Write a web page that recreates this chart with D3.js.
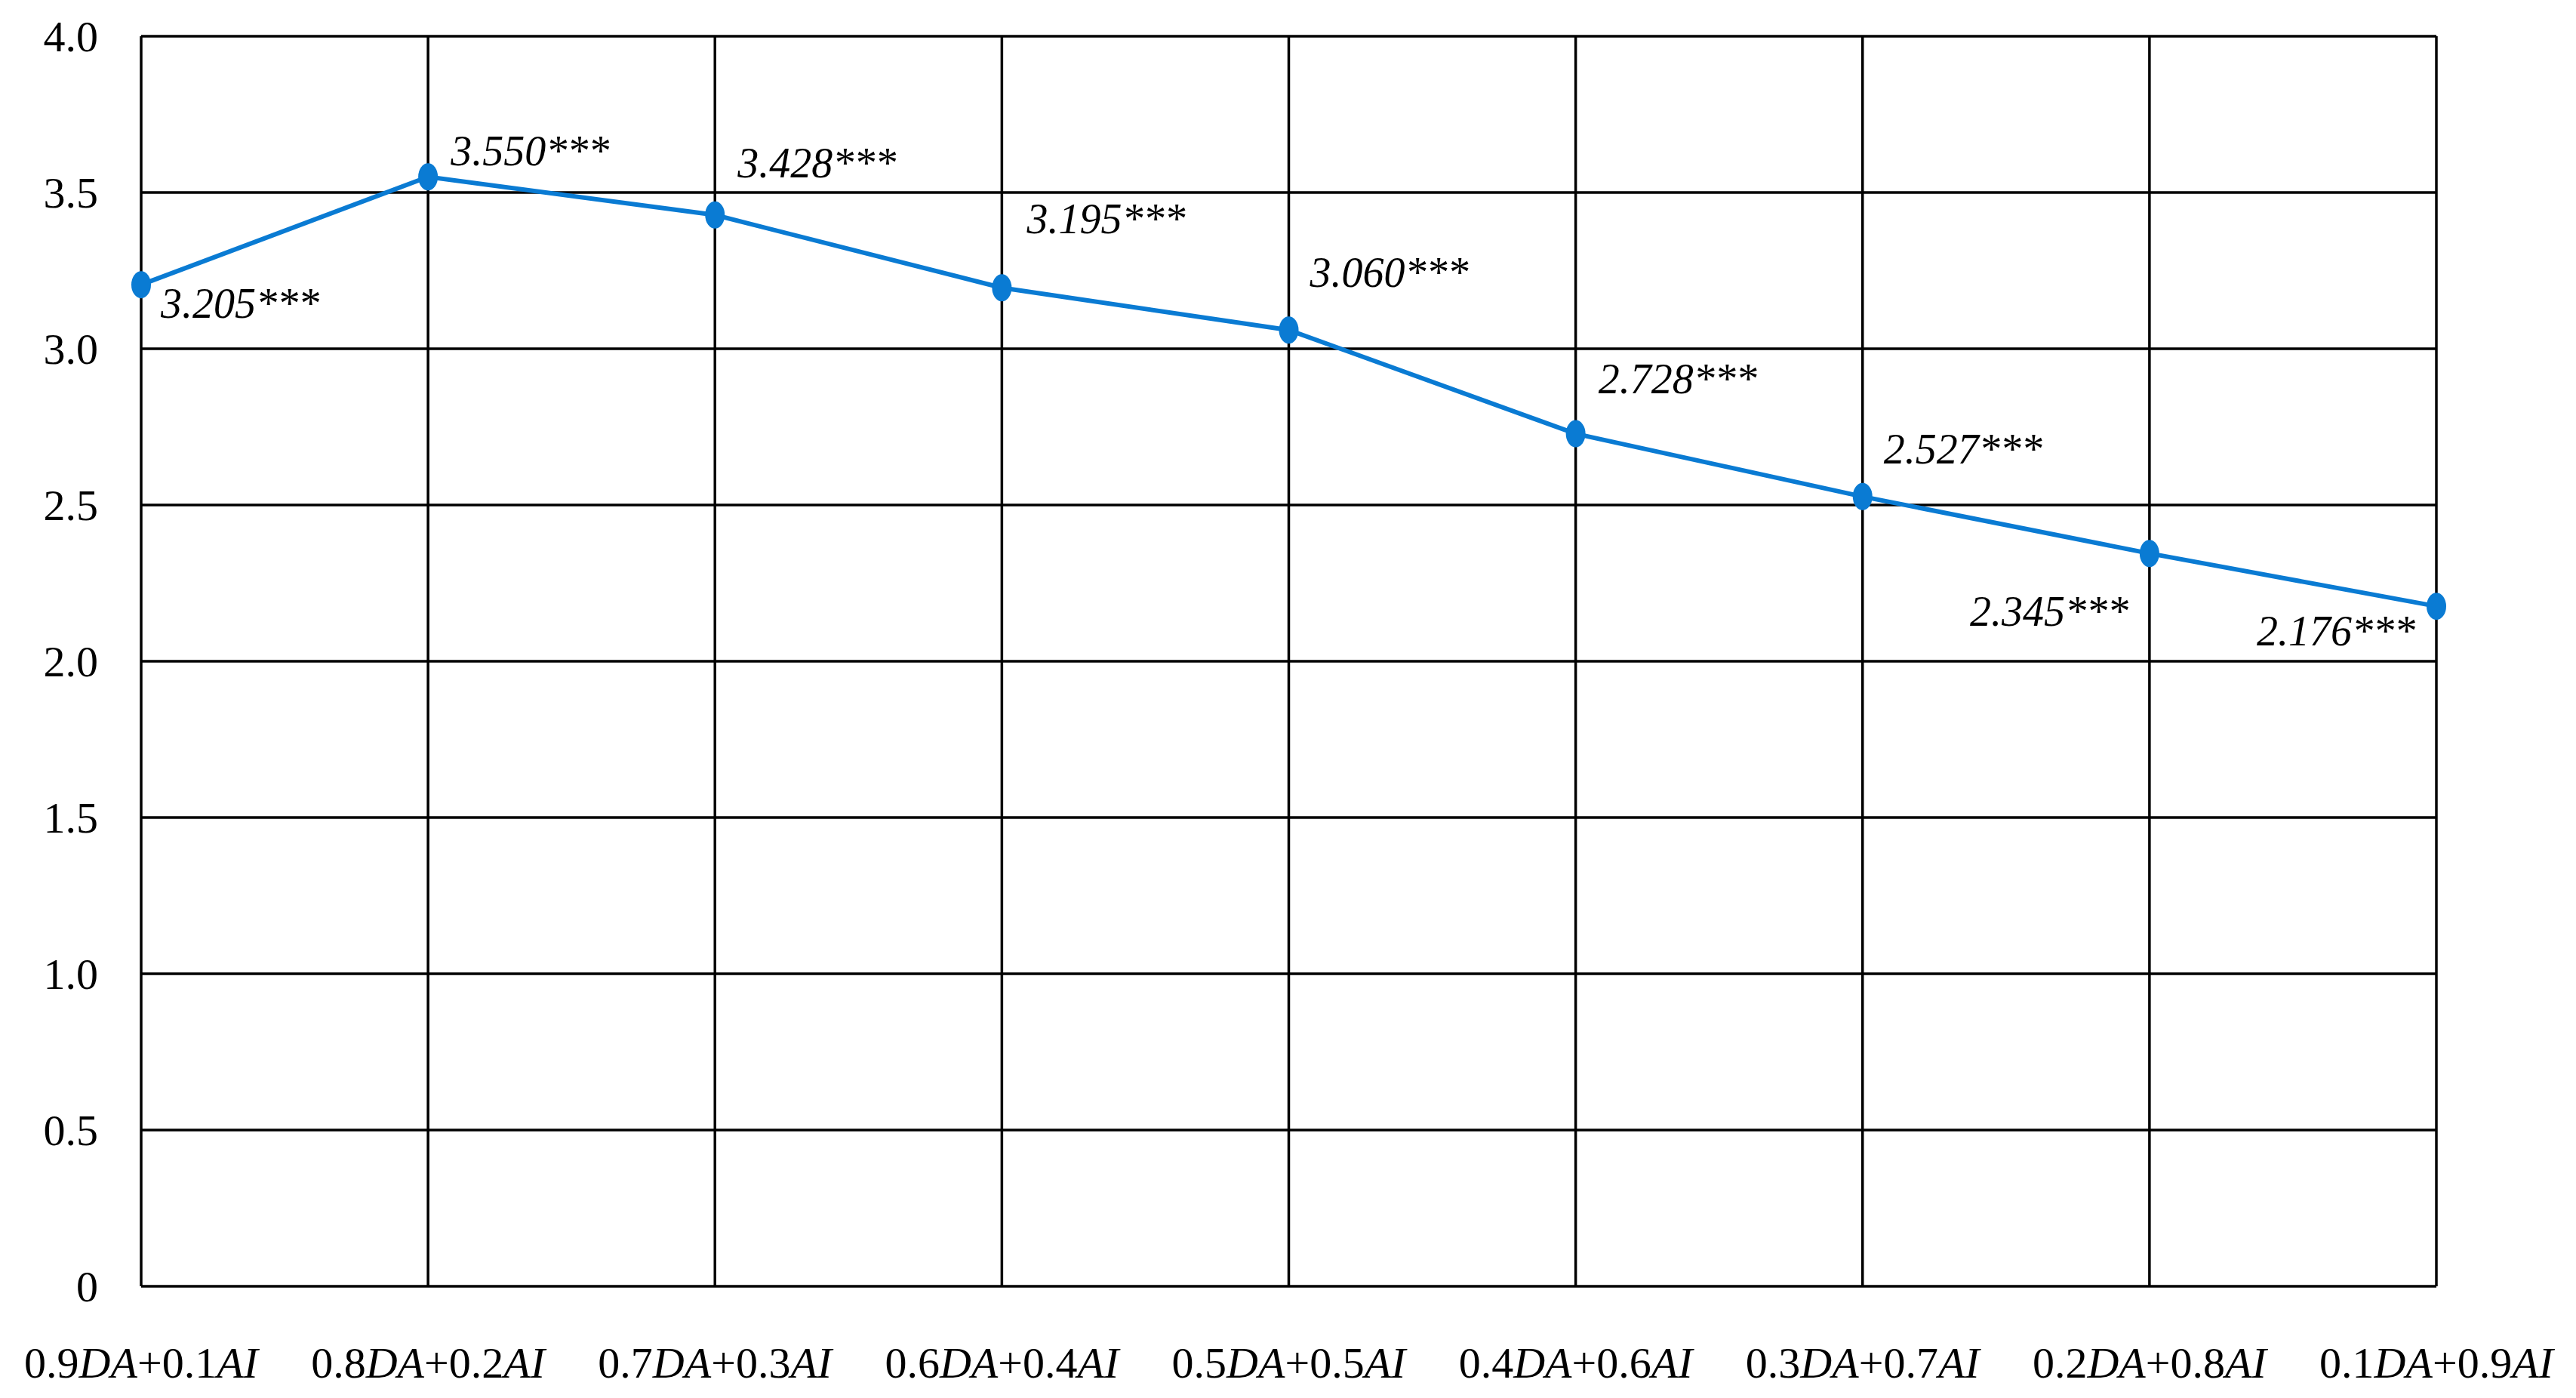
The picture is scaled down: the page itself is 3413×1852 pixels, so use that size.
<!DOCTYPE html>
<html>
<head>
<meta charset="utf-8">
<script src="https://cdn.jsdelivr.net/npm/d3@7"></script>
<style>
  body { margin: 0; background: #fff; }
  text { font-family: "Liberation Serif", "Times New Roman", serif; fill: #000; }
</style>
</head>
<body>
<svg id="chart" width="3413" height="1852"></svg>
<script>
// weights for each mix: DA share / AI share
var daWeights = ['0.9', '0.8', '0.7', '0.6', '0.5', '0.4', '0.3', '0.2', '0.1'];
var aiWeights = ['0.1', '0.2', '0.3', '0.4', '0.5', '0.6', '0.7', '0.8', '0.9'];
var values = [3.205, 3.550, 3.428, 3.195, 3.060, 2.728, 2.527, 2.345, 2.176];
var valueLabels = ['3.205***', '3.550***', '3.428***', '3.195***', '3.060***', '2.728***', '2.527***', '2.345***', '2.176***'];
var yTicks = [0, 0.5, 1.0, 1.5, 2.0, 2.5, 3.0, 3.5, 4.0];

// label placement around each point: [dx, dy, anchor]
var labelPlace = [
  [26, 44, 'start'], [30, -15, 'start'], [30, -50, 'start'], [33, -72, 'start'],
  [28, -57, 'start'], [30, -54, 'start'], [28, -44, 'start'], [-28, 96, 'end'], [-28, 52, 'end']
];

var margin = {left: 187, right: 185, top: 48, bottom: 148};
var svg = d3.select('#chart');
var W = 3413, H = 1852;
var innerW = W - margin.left - margin.right;
var innerH = H - margin.top - margin.bottom;

var g = svg.append('g').attr('transform', 'translate(' + margin.left + ',' + margin.top + ')');

var x = d3.scalePoint().domain(d3.range(values.length)).range([0, innerW]);
var y = d3.scaleLinear().domain([0, 4]).range([innerH, 0]);

// grid
g.selectAll('.hgrid').data(yTicks).enter().append('line')
  .attr('x1', 0).attr('x2', innerW)
  .attr('y1', function(d) { return y(d); }).attr('y2', function(d) { return y(d); })
  .attr('stroke', '#000').attr('stroke-width', 3.5);

g.selectAll('.vgrid').data(x.domain()).enter().append('line')
  .attr('x1', function(d) { return x(d); }).attr('x2', function(d) { return x(d); })
  .attr('y1', 0).attr('y2', innerH)
  .attr('stroke', '#000').attr('stroke-width', 3.5);

// y tick labels
g.selectAll('.ylab').data(yTicks).enter().append('text')
  .attr('x', -57).attr('y', function(d) { return y(d); })
  .attr('dy', '0.35em').attr('text-anchor', 'end')
  .attr('font-size', 58)
  .text(function(d) { return d === 0 ? '0' : d3.format('.1f')(d); });

// x tick labels
var xl = g.selectAll('.xlab').data(x.domain()).enter().append('text')
  .attr('x', function(d) { return x(d); }).attr('y', innerH + 121)
  .attr('text-anchor', 'middle').attr('font-size', 58);
xl.append('tspan').text(function(d) { return daWeights[d]; });
xl.append('tspan').attr('font-style', 'italic').text('DA');
xl.append('tspan').text(function(d) { return '+' + aiWeights[d]; });
xl.append('tspan').attr('font-style', 'italic').text('AI');

// line
var line = d3.line().x(function(d, i) { return x(i); }).y(function(d) { return y(d); });
g.append('path').datum(values)
  .attr('d', line).attr('fill', 'none')
  .attr('stroke', '#0a7bd3').attr('stroke-width', 6);

g.selectAll('.pt').data(values).enter().append('ellipse')
  .attr('cx', function(d, i) { return x(i); }).attr('cy', function(d) { return y(d); })
  .attr('rx', 13).attr('ry', 18).attr('fill', '#0a7bd3');

g.selectAll('.vlab').data(values).enter().append('text')
  .attr('x', function(d, i) { return x(i) + labelPlace[i][0]; })
  .attr('y', function(d, i) { return y(d) + labelPlace[i][1]; })
  .attr('text-anchor', function(d, i) { return labelPlace[i][2]; })
  .attr('font-size', 56).attr('font-style', 'italic')
  .text(function(d, i) { return valueLabels[i]; });
</script>
</body>
</html>
